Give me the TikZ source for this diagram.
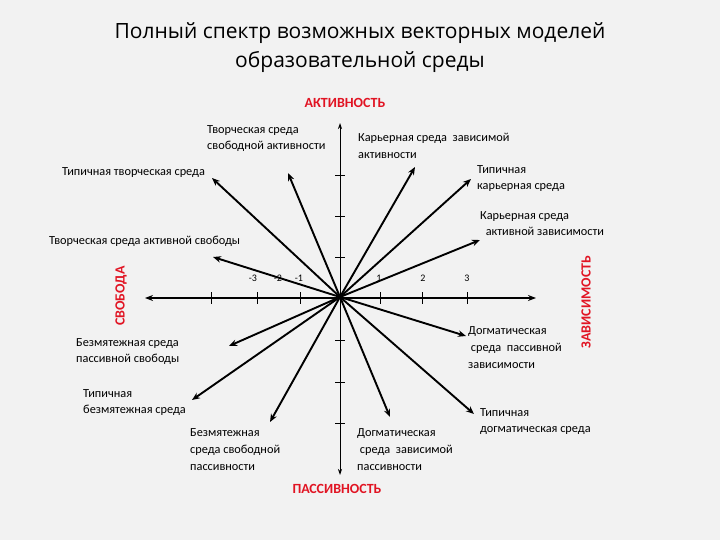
\documentclass[tikz,border=0pt]{standalone}
\usepackage{fontspec}
\setmainfont{Carlito}
\newfontfamily\titlefont{Open Sans}
\usetikzlibrary{arrows.meta}
\definecolor{bg}{RGB}{242,242,242}
\definecolor{axred}{RGB}{225,20,35}
\tikzset{
  lbl/.style={font=\fontsize{12.3}{16.6}\selectfont, align=left, inner sep=0pt, anchor=west},
  axlbl/.style={font=\fontsize{14}{15}\selectfont\bfseries, text=axred, inner sep=0pt},
  num/.style={font=\fontsize{10}{11}\selectfont, inner sep=0pt},
  spoke/.style={line width=1.9pt, -{Stealth[length=8pt,width=6.5pt]}},
  tick/.style={line width=0.8pt}
}
\begin{document}
\begin{tikzpicture}[x=1pt,y=-1pt]
\useasboundingbox (0,0) rectangle (720,540);
\fill[bg] (0,0) rectangle (720,540);
% title
\node[font=\titlefont\fontsize{21}{29}\selectfont, align=center, inner sep=0pt] (title) at (360,48)
  {Полный спектр возможных векторных моделей\\образовательной среды};
% center and axis ends
\coordinate (c) at (340,297);
\coordinate (top) at (340,123);
\coordinate (bot) at (340,475);
\coordinate (lft) at (145,298);
\coordinate (rgt) at (536,298);
% vertical axis
\draw[line width=0.8pt, {Stealth[length=6pt,width=4pt]}-{Stealth[length=6pt,width=4pt]}] (bot) -- (top);
% horizontal axis
\draw[line width=1.8pt, {Stealth[length=8pt,width=6pt]}-{Stealth[length=8pt,width=6pt]}] (lft) -- (rgt);
% ticks vertical axis
\foreach \y in {175,216,257,340,382,423} \draw[tick] (335,\y) -- (345,\y);
% ticks horizontal axis
\foreach \x in {211,257,300,380,422,467} \draw[tick] (\x,292) -- (\x,304);
% numbers
\node[num] (n1) at (253,278) {-3};
\node[num] (n2) at (278,278) {-2};
\node[num] (n3) at (299,278) {-1};
\node[num] (n4) at (379,278) {1};
\node[num] (n5) at (423,278) {2};
\node[num] (n6) at (467,278) {3};
% spoke tips
\coordinate (t1) at (212,178);
\coordinate (t2) at (288,173);
\coordinate (t3) at (415,167);
\coordinate (t4) at (471,179);
\coordinate (t5) at (480,240);
\coordinate (t6) at (213,257);
\coordinate (t7) at (229,346);
\coordinate (t8) at (192,400);
\coordinate (t9) at (270,422);
\coordinate (t10) at (390,417);
\coordinate (t11) at (474,414);
\coordinate (t12) at (466,336);
\foreach \t in {t1,t2,t3,t4,t5,t6,t7,t8,t9,t10,t11,t12} \draw[spoke] (c) -- (\t);
% axis labels
\node[axlbl] (akt) at (345,103) {АКТИВНОСТЬ};
\node[axlbl] (pas) at (337,489) {ПАССИВНОСТЬ};
\node[axlbl, rotate=90] (svo) at (121,296) {СВОБОДА};
\node[axlbl, rotate=90] (zav) at (586,302) {ЗАВИСИМОСТЬ};
% labels
\node[lbl] (l2) at (207,138.5) {Творческая среда\\свободной активности};
\node[lbl] (l3) at (358,146) {Карьерная среда\ \ зависимой\\активности};
\node[lbl] (l1) at (62,173) {Типичная творческая среда};
\node[lbl] (l4) at (477,178.5) {Типичная\\карьерная среда};
\node[lbl] (l5) at (480,223.5) {Карьерная среда\\\ \ активной зависимости};
\node[lbl] (l6) at (49,241) {Творческая среда активной свободы};
\node[lbl] (l12) at (468,347.5) {Догматическая\\\ среда\ \ пассивной\\зависимости};
\node[lbl] (l7) at (76,351.5) {Безмятежная среда\\пассивной свободы};
\node[lbl] (l8) at (83,402.5) {Типичная\\безмятежная среда};
\node[lbl] (l11) at (480,421.5) {Типичная\\догматическая среда};
\node[lbl] (l9) at (190,449.5) {Безмятежная\\среда свободной\\пассивности};
\node[lbl] (l10) at (357,449.5) {Догматическая\\\ среда\ \ зависимой\\пассивности};
\end{tikzpicture}
\end{document}
